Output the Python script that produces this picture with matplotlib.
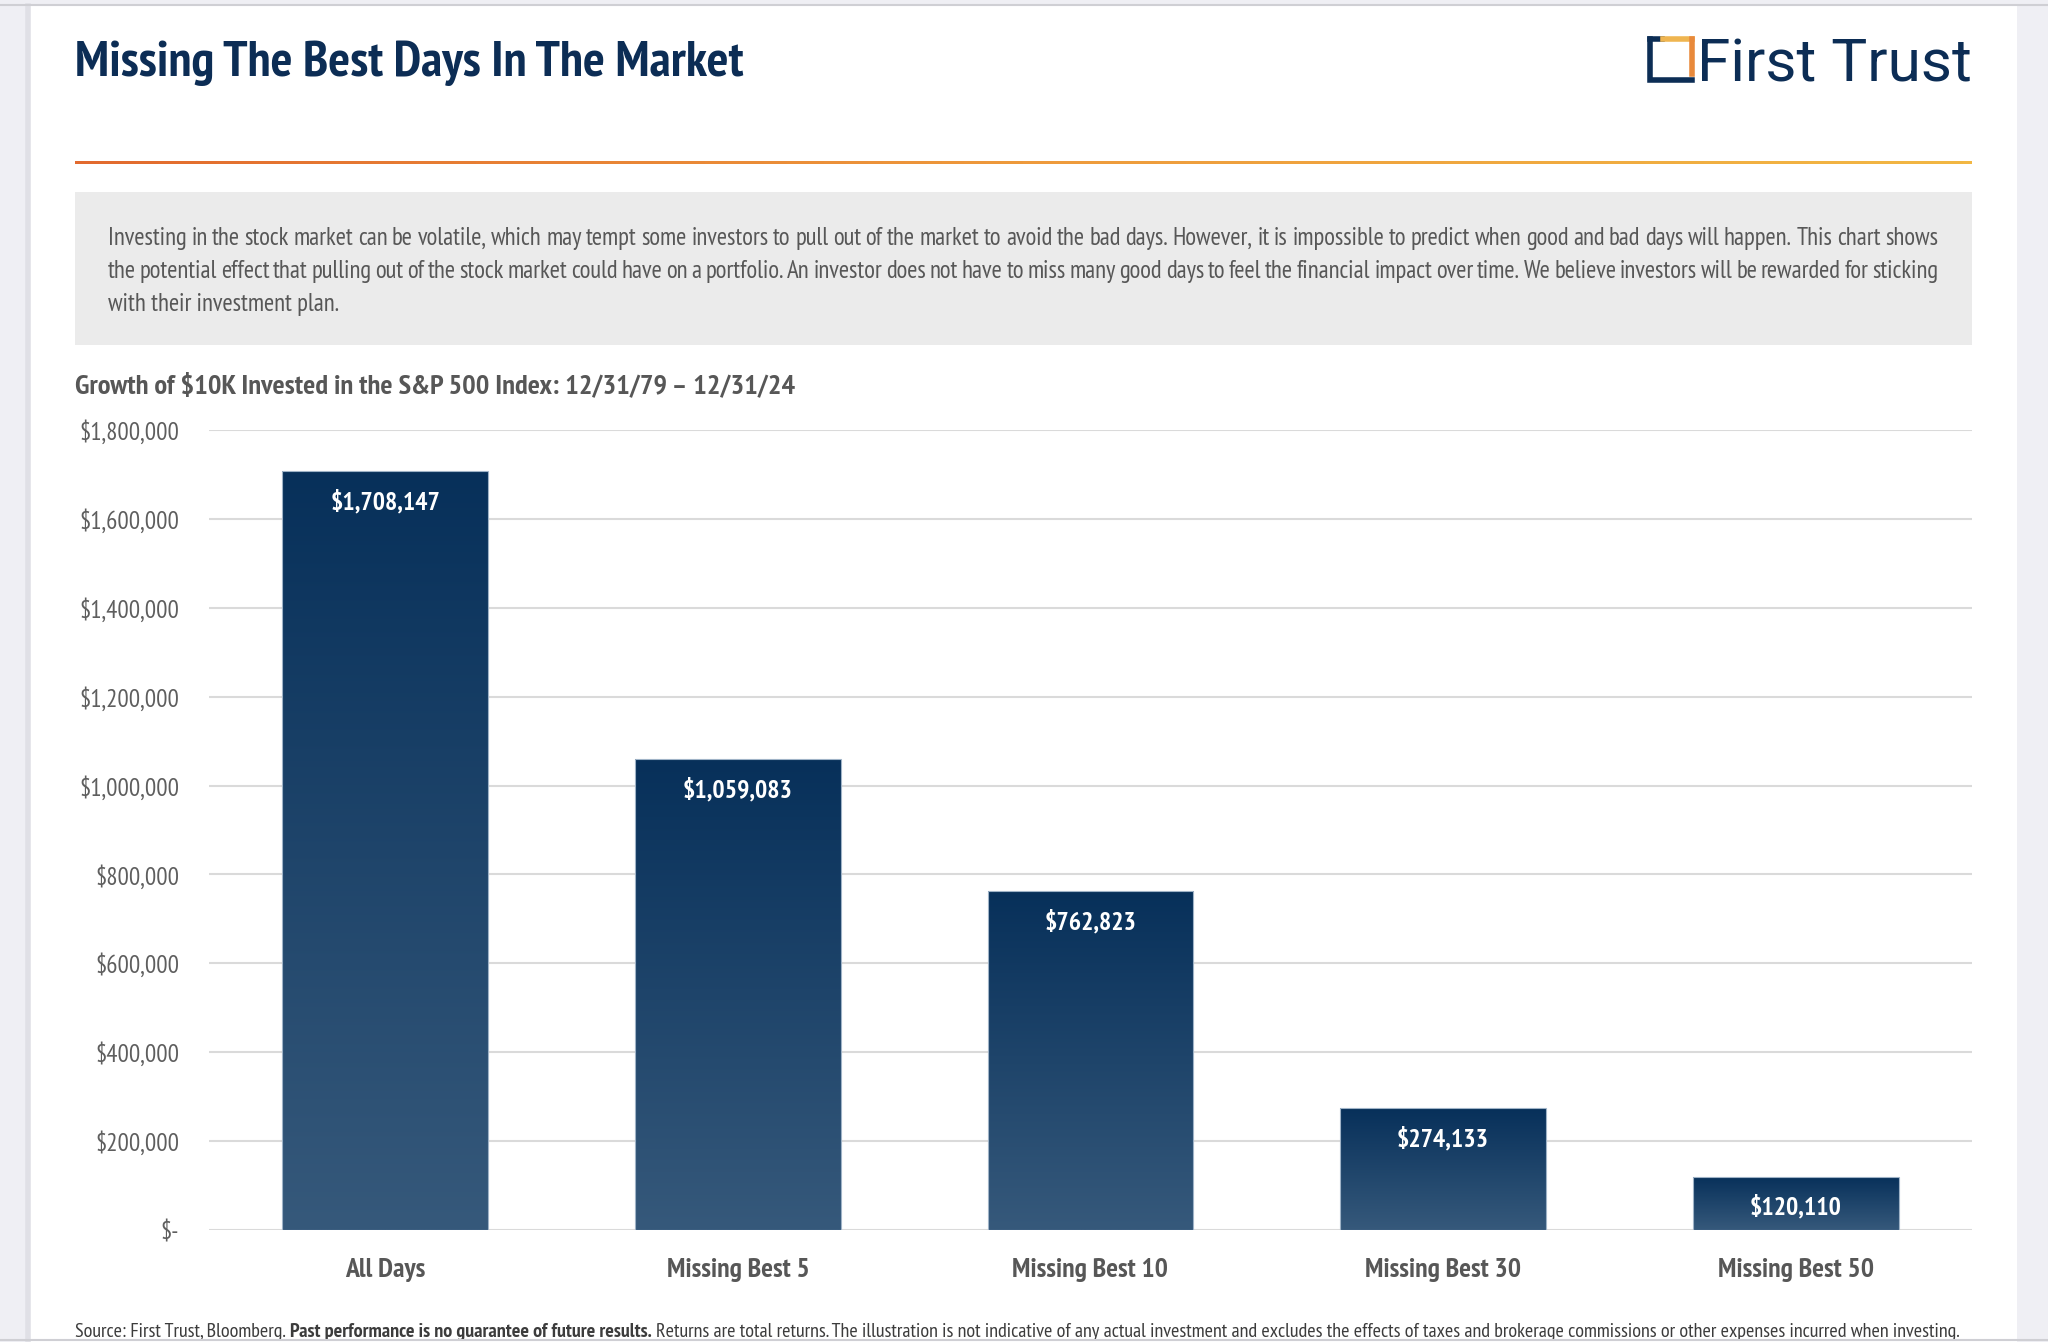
import matplotlib
matplotlib.use("Agg")
import matplotlib.pyplot as plt
import numpy as np
from matplotlib import font_manager
from matplotlib.colors import LinearSegmentedColormap
from matplotlib.patches import Rectangle
from matplotlib.lines import Line2D
from matplotlib.ticker import FuncFormatter

# data
categories = ["All Days", "Missing Best 5", "Missing Best 10", "Missing Best 30", "Missing Best 50"]
values = [1708147, 1059083, 762823, 274133, 120110]
y_ticks = [0, 200000, 400000, 600000, 800000, 1000000, 1200000, 1400000, 1600000, 1800000]

title = "Missing The Best Days In The Market"
subtitle = "Growth of $10K Invested in the S&P 500 Index: 12/31/79 \u2013 12/31/24"
body_lines = [
    "Investing in the stock market can be volatile, which may tempt some investors to pull out of the market to avoid the bad days. However, it is impossible to predict when good and bad days will happen.  This chart shows",
    "the potential effect that pulling out of the stock market could have on a portfolio.  An investor does not have to miss many good days to feel the financial impact over time.  We believe investors will be rewarded for sticking",
    "with their investment plan.",
]
footer_parts = [
    ("normal", "Source: First Trust, Bloomberg."),
    ("bold", "Past performance is no guarantee of future results."),
    ("normal", "Returns are total returns. The illustration is not indicative of any actual investment and excludes the effects of taxes and brokerage commissions or other expenses incurred when investing."),
]


def pick(cands):
    avail = {f.name for f in font_manager.fontManager.ttflist}
    for c in cands:
        if c in avail:
            return c
    return "DejaVu Sans"


COND = pick(["PT Sans Narrow", "IBM Plex Sans Condensed", "Open Sans Condensed", "Liberation Sans Narrow"])
LOGO = pick(["Roboto", "Inter", "Lato", "Open Sans"])

NAVY = "#0c2d55"
GRAY_TXT = "#575757"

W, H = 2048, 1342
fig = plt.figure(figsize=(W / 100, H / 100), dpi=100)
fig.patch.set_facecolor("#efeff4")


def fx(px):
    return px / W


def fy(py):
    return 1 - py / H


renderer = fig.canvas.get_renderer()


def text_w(s, **kw):
    t = fig.text(0, 0, s, **kw)
    w = t.get_window_extent(renderer).width
    t.remove()
    return w


# page card
fig.add_artist(Rectangle((fx(30), 0), fx(2017) - fx(30), fy(6), transform=fig.transFigure,
                         facecolor="white", edgecolor="none", zorder=0))
fig.add_artist(Line2D([fx(28), fx(28)], [0, fy(6)], transform=fig.transFigure, color="#e0e0e6", lw=4, zorder=0))
fig.add_artist(Line2D([0, 1], [fy(5), fy(5)], transform=fig.transFigure, color="#cfcfd4", lw=1.5))
fig.add_artist(Line2D([0, 1], [fy(1340), fy(1340)], transform=fig.transFigure, color="#cfcfd4", lw=1.5, zorder=5))

# title
fig.text(fx(75), fy(76), title, family=COND, weight="bold", fontsize=37, color=NAVY, va="baseline")

# logo
lx0, lx1, ly0, ly1 = 1650, 1692, 39, 80
fig.add_artist(Line2D([fx(lx0), fx(lx0), fx(lx1)], [fy(ly0), fy(ly1), fy(ly1)], transform=fig.transFigure,
                      color=NAVY, lw=4, solid_joinstyle="miter"))
fig.add_artist(Line2D([fx(lx0), fx(lx0 + 12)], [fy(ly0), fy(ly0)], transform=fig.transFigure, color=NAVY, lw=4))
fig.add_artist(Line2D([fx(lx0 + 13), fx(lx1)], [fy(ly0), fy(ly0)], transform=fig.transFigure, color="#efb550", lw=4))
fig.add_artist(Line2D([fx(lx1), fx(lx1)], [fy(ly0), fy(ly1 - 6)], transform=fig.transFigure, color="#e8893b", lw=4))
fig.text(fx(1697), fy(82), "First Trust", family=LOGO, fontsize=43.5, color=NAVY, va="baseline")

# orange rule
ax_rule = fig.add_axes([fx(75), fy(164), fx(1972) - fx(75), 3 / H])
rule_cmap = LinearSegmentedColormap.from_list("rule", ["#e26a2e", "#ee9a3c", "#f2b743"])
ax_rule.imshow(np.linspace(0, 1, 512).reshape(1, -1), cmap=rule_cmap, aspect="auto")
ax_rule.axis("off")

# grey box with text
fig.add_artist(Rectangle((fx(75), fy(345)), fx(1972) - fx(75), fy(192) - fy(345), transform=fig.transFigure,
                         facecolor="#ebebeb", edgecolor="none", zorder=0))
body_kw = dict(family=COND, fontsize=17.8, color=GRAY_TXT)
body_y = [245, 278, 311]
for i, line in enumerate(body_lines):
    if i < len(body_lines) - 1:
        words = line.split()
        widths = [text_w(w_, **body_kw) for w_ in words]
        gap = (1938 - 108 - sum(widths)) / (len(words) - 1)
        x = 108
        for w_, wd in zip(words, widths):
            fig.text(fx(x), fy(body_y[i]), w_, va="baseline", **body_kw)
            x += wd + gap
    else:
        fig.text(fx(108), fy(body_y[i]), line, va="baseline", **body_kw)

# chart subtitle
fig.text(fx(75), fy(393), subtitle, family=COND, weight="bold", fontsize=20.5, color=GRAY_TXT, va="baseline")

# chart
ax = fig.add_axes([fx(209), fy(1230), fx(1972) - fx(209), fy(430) - fy(1230)])
x = np.arange(len(categories))
bars = ax.bar(x, values, width=0.584, facecolor="none", edgecolor="#9fb3c7", linewidth=0.8, zorder=3)
bar_cmap = LinearSegmentedColormap.from_list("bar", ["#07305a", "#36597b"])
grad = np.linspace(0, 1, 256).reshape(-1, 1)
for p in bars:
    bx, by, bw, bh = p.get_x(), p.get_y(), p.get_width(), p.get_height()
    im = ax.imshow(grad, cmap=bar_cmap, extent=[bx, bx + bw, by, by + bh], aspect="auto", zorder=2)
    im.set_clip_path(p)

for xi, v in zip(x, values):
    ax.annotate(f"${v:,.0f}", (xi, v), xytext=(0, -31 * 0.72), textcoords="offset points",
                ha="center", va="center", color="white", family=COND, weight="bold", fontsize=18.5)

ax.set_xlim(-0.5, len(categories) - 0.5)
ax.set_ylim(0, 1800000)
ax.set_yticks(y_ticks)
ax.yaxis.set_major_formatter(FuncFormatter(lambda v, pos: "$-" if v == 0 else f"${v:,.0f}"))
ax.set_xticks(x)
ax.set_xticklabels(categories)
for lab in ax.get_yticklabels():
    lab.set_family(COND)
    lab.set_fontsize(18)
    lab.set_color("#5e5e5e")
for lab in ax.get_xticklabels():
    lab.set_family(COND)
    lab.set_fontsize(20)
    lab.set_weight("bold")
    lab.set_color(GRAY_TXT)
ax.tick_params(axis="y", length=0, pad=21.5)
ax.tick_params(axis="x", length=0, pad=20)
ax.yaxis.grid(True, color="#dadada", linewidth=1.5)
ax.set_axisbelow(True)
for s in ax.spines.values():
    s.set_visible(False)
ax.set_facecolor("none")

# footer, sized to span the card width
base = 10
foot_kw = lambda wt, sz: dict(family=COND, fontsize=sz, weight=wt, color="#3c3c3c")
total = sum(text_w(t, **foot_kw(wt, base)) for wt, t in footer_parts)
space = text_w("a a", **foot_kw("normal", base)) - text_w("aa", **foot_kw("normal", base))
total += space * (len(footer_parts) - 1)
size = base * (1972 - 75) / total
space = space * size / base
xf = 75
for wt, t in footer_parts:
    fig.text(fx(xf), fy(1337), t, va="baseline", **foot_kw(wt, size))
    xf += text_w(t, **foot_kw(wt, size)) + space

fig.savefig("out.png", dpi=100, facecolor=fig.get_facecolor())
